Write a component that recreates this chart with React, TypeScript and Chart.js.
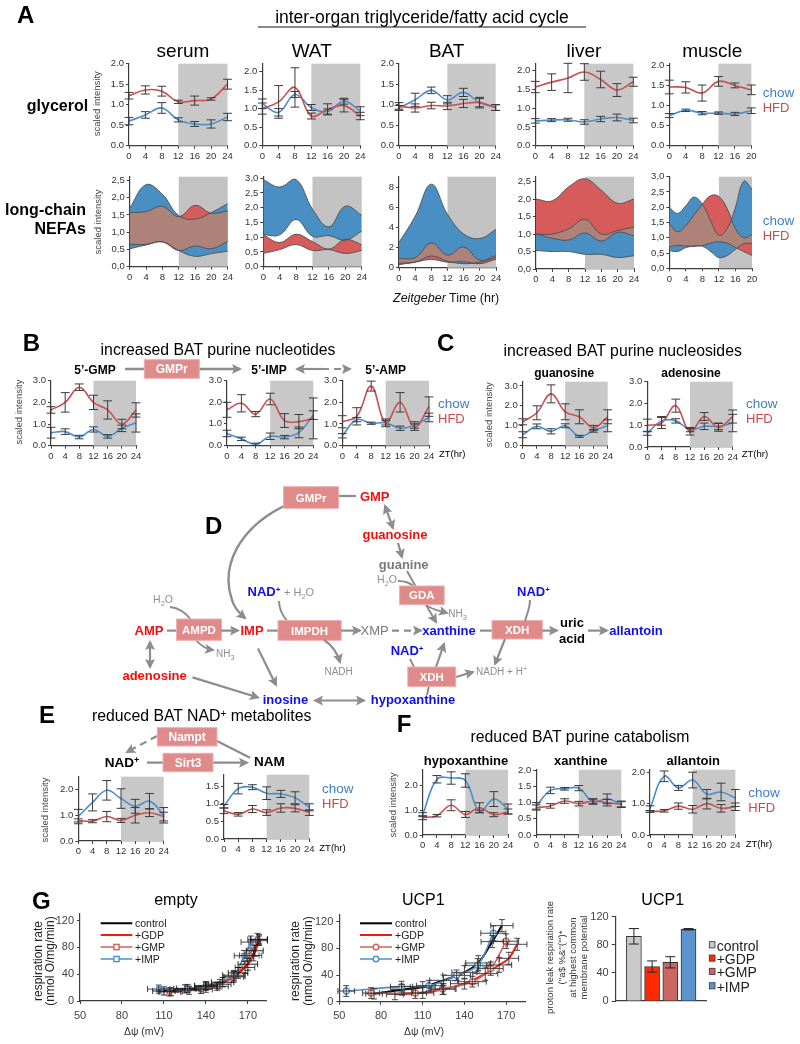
import React, { useEffect, useRef } from "react";
import { Chart, registerables } from "chart.js";

Chart.register(...registerables);

const FONT = '"Liberation Sans", Arial, sans-serif';
const CHOW = "#4a8ed0";
const HFD = "#cc4f4f";
const BLUE_TXT = "#3f7fc0";
const RED_TXT = "#c94a4a";
const SHADE = "#c8c8c8";
const ARROW = "#8d8d8d";
const ENZ = "#e08a8a";

// ---------- time axes ----------
const T24 = [0, 4, 8, 12, 16, 20, 24];
const T20 = [0, 4, 8, 12, 16, 20];
const T20Fine = [0, 2, 4, 6, 8, 10, 12, 14, 16, 18, 20];
const TICKS_05_20 = [0, 0.5, 1, 1.5, 2];
const TICKS_05_25 = [0, 0.5, 1, 1.5, 2, 2.5];
const TICKS_05_30 = [0, 0.5, 1, 1.5, 2, 2.5, 3];
const TICKS_1_30 = [0, 1, 2, 3];
const TICKS_05_15 = [0, 0.5, 1, 1.5];
const TICKS_1_20 = [0, 1, 2];
const TICKS_2_8 = [0, 2, 4, 6, 8];

// ---------- panel A glycerol ----------
const serumGlyChow = [0.6, 0.75, 0.92, 0.63, 0.53, 0.53, 0.7];
const serumGlyChowErr = [0.09, 0.08, 0.13, 0.05, 0.06, 0.1, 0.09];
const serumGlyHfd = [1.22, 1.36, 1.33, 1.07, 1.1, 1.14, 1.5];
const serumGlyHfdErr = [0.08, 0.1, 0.12, 0.04, 0.11, 0.03, 0.12];

const watGlyChow = [1.13, 0.9, 1.38, 1.03, 0.92, 1.2, 0.93];
const watGlyChowErr = [0.13, 0.1, 0.08, 0.08, 0.07, 0.08, 0.12];
const watGlyHfd = [1.0, 1.18, 1.57, 0.8, 0.98, 1.08, 0.8];
const watGlyHfdErr = [0.15, 0.44, 0.53, 0.08, 0.15, 0.17, 0.1];

const batGlyChow = [0.92, 1.12, 1.35, 1.12, 1.3, 1.05, 0.93];
const batGlyChowErr = [0.06, 0.16, 0.08, 0.1, 0.1, 0.1, 0.07];
const batGlyHfd = [0.97, 0.92, 0.98, 0.97, 1.03, 1.05, 0.93];
const batGlyHfdErr = [0.08, 0.1, 0.08, 0.09, 0.1, 0.13, 0.07];

const liverGlyChow = [0.66, 0.68, 0.69, 0.63, 0.71, 0.75, 0.67];
const liverGlyChowErr = [0.06, 0.04, 0.04, 0.06, 0.07, 0.09, 0.06];
const liverGlyHfd = [1.56, 1.69, 1.8, 1.96, 1.76, 1.48, 1.7];
const liverGlyHfdErr = [0.15, 0.22, 0.39, 0.22, 0.22, 0.17, 0.12];

const muscleGlyChow = [0.75, 0.88, 0.81, 0.81, 0.79, 0.87];
const muscleGlyChowErr = [0.05, 0.03, 0.04, 0.03, 0.04, 0.07];
const muscleGlyHfd = [1.46, 1.45, 1.31, 1.6, 1.5, 1.39];
const muscleGlyHfdErr = [0.17, 0.14, 0.2, 0.12, 0.06, 0.12];

// ---------- panel A long-chain NEFA bands ----------
const serumNefaBlueUp = [1.7, 2.38, 2.1, 1.48, 1.38, 1.57, 1.83];
const serumNefaBlueLo = [0.52, 0.63, 0.72, 0.47, 0.3, 0.38, 0.45];
const serumNefaRedUp = [1.57, 1.6, 1.75, 1.45, 1.78, 1.55, 1.62];
const serumNefaRedLo = [0.65, 0.65, 0.72, 0.47, 0.6, 0.52, 0.73];

const watNefaBlueUp = [2.95, 2.7, 2.95, 1.95, 1.35, 2.05, 1.75];
const watNefaBlueLo = [1.08, 1.08, 1.6, 1.03, 1.05, 0.9, 1.2];
const watNefaRedUp = [1.08, 0.82, 1.1, 0.85, 0.6, 0.92, 0.75];
const watNefaRedLo = [0.45, 0.58, 0.75, 0.55, 0.58, 0.45, 0.55];

const batNefaBlueUp = [2.5, 5.1, 8.3, 5.3, 3.35, 2.9, 3.8];
const batNefaBlueLo = [0.45, 0.55, 1.17, 0.65, 0.4, 0.55, 1.05];
const batNefaRedUp = [0.9, 1.0, 2.45, 1.25, 2.05, 0.75, 1.2];
const batNefaRedLo = [0.3, 0.55, 0.82, 0.55, 0.6, 0.4, 0.85];

const liverNefaBlueUp = [1.0, 1.0, 1.15, 1.42, 1.0, 1.1, 1.2];
const liverNefaBlueLo = [0.53, 0.5, 0.5, 0.42, 0.42, 0.33, 0.38];
const liverNefaRedUp = [2.0, 1.95, 2.35, 2.58, 2.25, 1.88, 2.0];
const liverNefaRedLo = [1.0, 0.88, 0.83, 1.03, 0.8, 1.05, 0.95];

const muscleNefaBlueUp = [2.0, 1.8, 2.05, 2.33, 2.1, 1.55, 1.08, 1.3, 2.0, 2.85, 2.6];
const muscleNefaBlueLo = [0.58, 0.55, 0.68, 0.72, 0.72, 0.55, 0.35, 0.42, 0.62, 0.8, 0.82];
const muscleNefaRedUp = [1.45, 1.2, 1.4, 1.75, 2.1, 2.38, 2.35, 1.95, 1.3, 1.0, 1.1];
const muscleNefaRedLo = [0.7, 0.75, 0.73, 0.73, 0.75, 0.83, 0.87, 0.82, 0.68, 0.55, 0.42];

// ---------- panel B ----------
const gmpChow = [0.6, 0.65, 0.4, 0.75, 0.43, 0.8, 1.05];
const gmpChowErr = [0.25, 0.13, 0.08, 0.12, 0.08, 0.15, 0.42];
const gmpHfd = [1.65, 2.0, 2.7, 2.0, 1.65, 1.0, 1.65];
const gmpHfdErr = [0.15, 0.45, 0.15, 0.33, 0.42, 0.22, 0.33];

const impChow = [0.55, 0.3, 0.05, 0.42, 0.38, 0.6, 1.4];
const impChowErr = [0.15, 0.08, 0.05, 0.15, 0.08, 0.25, 0.2];
const impHfd = [1.65, 1.95, 1.45, 2.15, 1.15, 1.1, 1.25];
const impHfdErr = [0.35, 0.4, 0.12, 0.27, 0.32, 0.33, 0.95];

const ampChow = [0.45, 1.2, 1.03, 1.05, 0.8, 0.95, 1.3];
const ampChowErr = [0.1, 0.1, 0.05, 0.1, 0.1, 0.15, 0.2];
const ampHfd = [1.1, 1.35, 2.75, 1.05, 2.0, 0.85, 1.8];
const ampHfdErr = [0.28, 0.4, 0.23, 0.18, 0.45, 0.15, 0.45];

// ---------- panel C ----------
const guanChow = [0.55, 0.97, 0.72, 1.0, 0.47, 0.75, 1.0];
const guanChowErr = [0.15, 0.12, 0.13, 0.1, 0.05, 0.07, 0.3];
const guanHfd = [1.2, 1.65, 2.6, 1.7, 1.45, 0.9, 1.45];
const guanHfdErr = [0.15, 0.35, 0.45, 0.4, 0.35, 0.12, 0.35];

const adenChow = [0.62, 1.2, 1.2, 0.8, 0.95, 0.95, 1.1];
const adenChowErr = [0.08, 0.2, 0.1, 0.1, 0.15, 0.15, 0.4];
const adenHfd = [1.0, 1.1, 1.9, 0.7, 1.4, 0.9, 1.4];
const adenHfdErr = [0.28, 0.25, 0.3, 0.15, 0.18, 0.18, 0.3];

// ---------- panel E ----------
const nadChow = [0.95, 1.5, 1.97, 1.65, 1.35, 1.55, 1.0];
const nadChowErr = [0.28, 0.33, 0.38, 0.38, 0.27, 0.3, 0.3];
const nadHfd = [0.8, 0.77, 0.95, 0.8, 1.0, 1.1, 0.95];
const nadHfdErr = [0.06, 0.06, 0.2, 0.08, 0.3, 0.15, 0.17];

const namChow = [0.93, 1.43, 1.47, 1.3, 1.28, 1.17, 0.9];
const namChowErr = [0.05, 0.15, 0.07, 0.18, 0.1, 0.17, 0.1];
const namHfd = [0.8, 0.7, 0.85, 0.75, 0.88, 0.87, 0.75];
const namHfdErr = [0.08, 0.05, 0.1, 0.08, 0.12, 0.1, 0.08];

// ---------- panel F ----------
const hypoChow = [0.82, 2.25, 2.3, 2.2, 0.95, 1.45, 1.05];
const hypoChowErr = [0.08, 0.15, 0.25, 0.27, 0.05, 0.3, 0.2];
const hypoHfd = [0.7, 0.78, 1.2, 0.83, 1.1, 0.82, 0.95];
const hypoHfdErr = [0.08, 0.05, 0.22, 0.12, 0.2, 0.08, 0.1];

const xanChow = [0.9, 1.38, 1.43, 1.45, 1.03, 1.12, 0.95];
const xanChowErr = [0.1, 0.1, 0.04, 0.08, 0.08, 0.15, 0.08];
const xanHfd = [0.85, 0.9, 1.05, 0.97, 1.05, 1.0, 0.95];
const xanHfdErr = [0.08, 0.07, 0.07, 0.07, 0.07, 0.1, 0.1];

const allanChow = [0.85, 1.87, 1.5, 1.75, 1.3, 1.37, 1.18];
const allanChowErr = [0.08, 0.17, 0.08, 0.25, 0.15, 0.28, 0.27];
const allanHfd = [0.75, 0.77, 0.92, 0.82, 1.0, 0.85, 0.9];
const allanHfdErr = [0.03, 0.04, 0.1, 0.12, 0.17, 0.12, 0.12];

// ---------- panel G respiration curves ----------
const emptyControlX = [110, 125, 140, 152, 163, 170, 175, 178];
const emptyControlY = [15, 18, 22, 28, 42, 55, 75, 92];
const emptyGdpX = [115, 128, 140, 150, 160, 168, 174, 178];
const emptyGdpY = [14, 16, 19, 25, 36, 50, 68, 90];
const emptyGmpX = [114, 136.6, 148, 160, 171, 177];
const emptyGmpY = [13.5, 17.3, 22, 37, 68, 92];
const emptyImpX = [106.3, 127, 140, 160, 167.3, 172.2];
const emptyImpY = [17.8, 18.8, 23, 38.5, 67.5, 88];
const emptyXErr = [8, 8, 8, 8, 7, 7, 6, 6];
const emptyYErr = [6, 6, 6, 7, 8, 9, 8, 7];

const ucpControlX = [75, 95, 110, 125, 140, 150, 160, 167];
const ucpControlY = [12, 18, 22, 32, 44, 58, 90, 114];
const ucpGdpX = [90, 110, 125, 140, 155, 165, 172, 178];
const ucpGdpY = [11, 13, 19, 27, 42, 55, 65, 86];
const ucpGmpX = [72.8, 104.7, 124.3, 145.7, 158.9, 170];
const ucpGmpY = [13, 13, 19, 30, 49.6, 90.6];
const ucpImpX = [55, 94.8, 114.5, 134.4, 149.5, 160.8];
const ucpImpY = [16, 22.6, 24, 39.5, 54.5, 102.6];
const ucpXErr = [6, 8, 9, 10, 9, 9];
const ucpYErr = [8, 8, 8, 8, 10, 11];

const respXTicks = [50, 80, 110, 140, 170];
const respYTicks = [0, 20, 40, 60, 80, 100, 120];

// ---------- panel G bars ----------
const barLabels = ["", "control", "+GDP", "+GMP", "+IMP", ""];
const barValues = [null, 92, 49, 55, 102, null];
const barErrors = [0, 11, 8, 8, 1, 0];
const barColors = ["#000", "#c9c9c9", "#ff2a00", "#cc6662", "#5b94cc", "#000"];
const barYTicks = [0, 40, 80, 120];

type Box = { x0: number; x1: number; yT: number; yB: number };

// ---------- plugins ----------
const shadePlugin = {
  id: "shade",
  beforeDatasetsDraw(chart: any, _a: any, opts: any) {
    if (opts.from == null) return;
    const { ctx, chartArea: c, scales } = chart;
    const x = scales.x.getPixelForValue(opts.from);
    ctx.save();
    ctx.fillStyle = opts.color || SHADE;
    ctx.fillRect(x, c.top, c.right - x, c.bottom - c.top);
    ctx.restore();
  },
};

const errPlugin = {
  id: "errs",
  afterDatasetsDraw(chart: any) {
    const { ctx, scales } = chart;
    chart.data.datasets.forEach((ds: any, i: number) => {
      if (!ds.errs && !ds.xErrs) return;
      const meta = chart.getDatasetMeta(i);
      const cap = ds.capSize ?? 4.4;
      ctx.save();
      ctx.strokeStyle = ds.errColor || "#3a3a3a";
      ctx.lineWidth = ds.errWidth || 1;
      meta.data.forEach((pt: any, j: number) => {
        const raw = ds.data[j];
        if (raw == null) return;
        const yv = typeof raw === "number" ? raw : raw.y;
        const e = ds.errs ? ds.errs[j] : 0;
        if (e) {
          const a = scales.y.getPixelForValue(yv + e);
          const b = scales.y.getPixelForValue(yv - e);
          ctx.beginPath();
          ctx.moveTo(pt.x, a);
          ctx.lineTo(pt.x, b);
          ctx.moveTo(pt.x - cap, a);
          ctx.lineTo(pt.x + cap, a);
          ctx.moveTo(pt.x - cap, b);
          ctx.lineTo(pt.x + cap, b);
          ctx.stroke();
        }
        const xe = ds.xErrs ? ds.xErrs[j] : 0;
        if (xe) {
          const a = scales.x.getPixelForValue(raw.x - xe);
          const b = scales.x.getPixelForValue(raw.x + xe);
          ctx.beginPath();
          ctx.moveTo(a, pt.y);
          ctx.lineTo(b, pt.y);
          ctx.moveTo(a, pt.y - cap);
          ctx.lineTo(a, pt.y + cap);
          ctx.moveTo(b, pt.y - cap);
          ctx.lineTo(b, pt.y + cap);
          ctx.stroke();
        }
      });
      ctx.restore();
    });
  },
};

function seg(ctx: any, pts: any[], move: boolean) {
  pts.forEach((p, i) => {
    if (i === 0) {
      if (move) ctx.moveTo(p.x, p.y);
      else ctx.lineTo(p.x, p.y);
      return;
    }
    const q = pts[i - 1];
    ctx.bezierCurveTo(q.cp2x, q.cp2y, p.cp1x, p.cp1y, p.x, p.y);
  });
}
function segRev(ctx: any, pts: any[]) {
  ctx.lineTo(pts[pts.length - 1].x, pts[pts.length - 1].y);
  for (let i = pts.length - 1; i > 0; i--) {
    const p = pts[i];
    const q = pts[i - 1];
    ctx.bezierCurveTo(p.cp1x, p.cp1y, q.cp2x, q.cp2y, q.x, q.y);
  }
}
const bandPlugin = {
  id: "bands",
  afterDatasetsDraw(chart: any, _a: any, opts: any) {
    if (!opts.on) return;
    const { ctx } = chart;
    const pts = [0, 1, 2, 3].map((i) => chart.getDatasetMeta(i).data);
    chart.getDatasetMeta(0).dataset.points;
    ctx.save();
    ctx.beginPath();
    seg(ctx, pts[2], true);
    segRev(ctx, pts[3]);
    ctx.closePath();
    ctx.clip();
    ctx.beginPath();
    seg(ctx, pts[0], true);
    segRev(ctx, pts[1]);
    ctx.closePath();
    ctx.fillStyle = opts.overlap;
    ctx.fill();
    ctx.restore();
    ctx.save();
    ctx.strokeStyle = "#4d4d4d";
    ctx.lineWidth = 0.9;
    pts.forEach((p) => {
      ctx.beginPath();
      seg(ctx, p, true);
      ctx.stroke();
    });
    ctx.restore();
  },
};

// ---------- chart frame ----------
function frameConfig(box: Box, o: any) {
  const L = o.L ?? 34;
  const R = o.R ?? 14;
  const TP = o.TP ?? 6;
  const B = o.B ?? 24;
  const left = Math.floor(box.x0) - L;
  const top = Math.floor(box.yT) - TP;
  const width = Math.ceil(box.x1) + R - left;
  const height = Math.ceil(box.yB) + B - top;
  const axis = o.axisColor ?? "#3d3d3d";
  const tick = { size: o.fontSize ?? 9.5, family: FONT };
  const xScale: any = {
    type: o.xCategory ? "category" : "linear",
    offset: false,
    min: o.xCategory ? undefined : o.xMin,
    max: o.xCategory ? undefined : o.xMax,
    grid: { display: true, drawOnChartArea: false, drawTicks: !o.xCategory, tickLength: o.tickLen ?? 3, color: axis, lineWidth: 1 },
    border: { display: true, color: axis, width: 1.2 },
    ticks: {
      display: !o.xCategory,
      color: o.tickColor ?? "#333",
      font: tick,
      padding: o.xPad ?? 2,
      maxRotation: 0,
      minRotation: 0,
      autoSkip: false,
    },
    afterFit: (s: any) => {
      s.height = top + height - box.yB;
    },
  };
  if (!o.xCategory) xScale.afterBuildTicks = (s: any) => {
    s.ticks = o.xTicks.map((v: number) => ({ value: v }));
  };
  return {
    left,
    top,
    width,
    height,
    options: {
      responsive: false,
      animation: false as const,
      devicePixelRatio: 1,
      layout: {
        autoPadding: false,
        padding: { left: 0, top: box.yT - top, right: left + width - box.x1, bottom: 0 },
      },
      plugins: {
        legend: { display: false },
        tooltip: { enabled: false },
        shade: { from: o.shadeFrom, color: o.shadeColor },
        bands: { on: !!o.overlap, overlap: o.overlap },
      },
      scales: {
        x: xScale,
        y: {
          type: "linear",
          min: 0,
          max: o.yMax,
          grid: { display: true, drawOnChartArea: false, drawTicks: true, tickLength: o.tickLen ?? 3, color: axis, lineWidth: 1 },
          border: { display: true, color: axis, width: 1.2 },
          ticks: {
            color: o.tickColor ?? "#333",
            font: tick,
            padding: o.yPad ?? 2,
            callback: o.fmt,
          },
          afterBuildTicks: (s: any) => {
            s.ticks = o.yTicks.map((v: number) => ({ value: v }));
          },
          afterFit: (s: any) => {
            s.width = box.x0 - left;
          },
        },
      },
    },
  };
}

const dot1 = (v: any) => Number(v).toFixed(1);
const comma1 = (v: any) => Number(v).toFixed(1).replace(".", ",");
const int0 = (v: any) => String(v);

const pairs = (xs: number[], ys: number[]) => xs.map((x, i) => ({ x, y: ys[i] }));

function lineChart(box: Box, yMax: number, yTicks: number[], xs: number[], chow: number[], chowE: number[], hfd: number[], hfdE: number[]) {
  const last = xs[xs.length - 1];
  const f = frameConfig(box, { yMax, yTicks, xTicks: xs, xMin: 0, xMax: last, shadeFrom: 12, fmt: dot1 });
  const mk = (ys: number[], es: number[], color: string) => ({
    data: pairs(xs, ys),
    errs: es,
    borderColor: color,
    borderWidth: 1.6,
    pointRadius: 0,
    tension: 0.4,
    clip: false,
    fill: false,
  });
  return { ...f, type: "line", data: { datasets: [mk(hfd, hfdE, HFD), mk(chow, chowE, CHOW)] }, plugins: [shadePlugin, errPlugin] };
}

function bandChart(box: Box, yMax: number, yTicks: number[], xs: number[], bu: number[], bl: number[], ru: number[], rl: number[], fmt: any) {
  const last = xs[xs.length - 1];
  const f = frameConfig(box, {
    yMax, yTicks, xTicks: last === 20 ? T20 : xs, xMin: 0, xMax: last, shadeFrom: 12, fmt,
    overlap: "#ad8379", shadeColor: "#c2c2c2",
  });
  const mk = (ys: number[], bg: string | null) => ({
    data: pairs(xs, ys),
    borderWidth: 0,
    borderColor: "rgba(0,0,0,0)",
    pointRadius: 0,
    tension: 0.4,
    backgroundColor: bg || undefined,
    fill: bg ? "-1" : false,
  });
  return {
    ...f,
    type: "line",
    data: { datasets: [mk(bu, null), mk(bl, "#4a8fc4"), mk(ru, null), mk(rl, "#d65c5c")] },
    plugins: [shadePlugin, bandPlugin],
  };
}

function respChart(box: Box, xMax: number, series: any[]) {
  const f = frameConfig(box, {
    yMax: 130.5, yTicks: respYTicks, xTicks: respXTicks, xMin: 50, xMax, fmt: int0,
    fontSize: 11, xPad: 5, yPad: 3, L: 34, B: 26, tickColor: "#444",
  });
  return { ...f, type: "line", data: { datasets: series }, plugins: [errPlugin] };
}

function curve(xs: number[], ys: number[], xe: number[], ye: number[], color: string, w: number, marker: string | false, errColor: string, order: number) {
  return {
    data: pairs(xs, ys),
    xErrs: xe,
    errs: ye,
    capSize: 3,
    errColor,
    errWidth: 0.9,
    borderColor: color,
    borderWidth: w,
    tension: 0.35,
    clip: false,
    fill: false,
    order,
    pointStyle: marker || "circle",
    pointRadius: marker ? 3 : 0,
    pointBackgroundColor: "#fff",
    pointBorderColor: color,
    pointBorderWidth: 1.4,
  };
}

const emptyBox: Box = { x0: 80, x1: 266, yT: 910.7, yB: 1001 };
const ucpBox: Box = { x0: 339.3, x1: 525, yT: 911.4, yB: 1001.7 };

const configs: any[] = [
  lineChart({ x0: 129, x1: 227.5, yT: 62.7, yB: 145.7 }, 2.0, TICKS_05_20, T24, serumGlyChow, serumGlyChowErr, serumGlyHfd, serumGlyHfdErr),
  lineChart({ x0: 262.3, x1: 360.3, yT: 62.7, yB: 145.7 }, 2.21, TICKS_05_20, T24, watGlyChow, watGlyChowErr, watGlyHfd, watGlyHfdErr),
  lineChart({ x0: 399, x1: 495.7, yT: 62.7, yB: 145.7 }, 2.0, TICKS_05_20, T24, batGlyChow, batGlyChowErr, batGlyHfd, batGlyHfdErr),
  lineChart({ x0: 535.3, x1: 633.3, yT: 62.3, yB: 145.7 }, 2.18, TICKS_05_20, T24, liverGlyChow, liverGlyChowErr, liverGlyHfd, liverGlyHfdErr),
  lineChart({ x0: 669.3, x1: 751.3, yT: 62.3, yB: 145.7 }, 2.04, TICKS_05_20, T20, muscleGlyChow, muscleGlyChowErr, muscleGlyHfd, muscleGlyHfdErr),

  bandChart({ x0: 129.7, x1: 227.7, yT: 175.3, yB: 266.7 }, 2.61, TICKS_05_25, T24, serumNefaBlueUp, serumNefaBlueLo, serumNefaRedUp, serumNefaRedLo, comma1),
  bandChart({ x0: 263.3, x1: 361.7, yT: 175.3, yB: 266.7 }, 3.05, TICKS_05_30, T24, watNefaBlueUp, watNefaBlueLo, watNefaRedUp, watNefaRedLo, comma1),
  bandChart({ x0: 399, x1: 496, yT: 175, yB: 267.7 }, 9.04, TICKS_2_8, T24, batNefaBlueUp, batNefaBlueLo, batNefaRedUp, batNefaRedLo, int0),
  bandChart({ x0: 536, x1: 634, yT: 175.7, yB: 269 }, 2.64, TICKS_05_25, T24, liverNefaBlueUp, liverNefaBlueLo, liverNefaRedUp, liverNefaRedLo, comma1),
  bandChart({ x0: 669.3, x1: 752, yT: 175.7, yB: 268.3 }, 3.0, TICKS_05_30, T20Fine, muscleNefaBlueUp, muscleNefaBlueLo, muscleNefaRedUp, muscleNefaRedLo, comma1),

  lineChart({ x0: 51, x1: 136, yT: 379.3, yB: 445.7 }, 3, TICKS_1_30, T24, gmpChow, gmpChowErr, gmpHfd, gmpHfdErr),
  lineChart({ x0: 227, x1: 313.3, yT: 379.3, yB: 445.3 }, 3, TICKS_1_30, T24, impChow, impChowErr, impHfd, impHfdErr),
  lineChart({ x0: 342.3, x1: 429, yT: 379.3, yB: 445.5 }, 3, TICKS_1_30, T24, ampChow, ampChowErr, ampHfd, ampHfdErr),
  lineChart({ x0: 522.7, x1: 607.7, yT: 380, yB: 445.7 }, 3.21, TICKS_1_30, T24, guanChow, guanChowErr, guanHfd, guanHfdErr),
  lineChart({ x0: 647.3, x1: 732.7, yT: 380.3, yB: 447 }, 3, TICKS_1_30, T24, adenChow, adenChowErr, adenHfd, adenHfdErr),

  lineChart({ x0: 78.3, x1: 163.7, yT: 775.7, yB: 841 }, 2.5, TICKS_05_25, T24, nadChow, nadChowErr, nadHfd, nadHfdErr),
  lineChart({ x0: 224, x1: 309.3, yT: 773.3, yB: 839 }, 1.825, TICKS_05_15, T24, namChow, namChowErr, namHfd, namHfdErr),

  lineChart({ x0: 422.7, x1: 508, yT: 768.3, yB: 835 }, 2.636, TICKS_05_25, T24, hypoChow, hypoChowErr, hypoHfd, hypoHfdErr),
  lineChart({ x0: 536.3, x1: 621.3, yT: 768.3, yB: 835 }, 2.02, TICKS_05_20, T24, xanChow, xanChowErr, xanHfd, xanHfdErr),
  lineChart({ x0: 650, x1: 735.3, yT: 768.3, yB: 835 }, 2.08, TICKS_1_20, T24, allanChow, allanChowErr, allanHfd, allanHfdErr),

  respChart(emptyBox, 183, [
    curve(emptyImpX, emptyImpY, emptyXErr, emptyYErr, "#4a90d0", 1.6, "rect", "#333", 1),
    curve(emptyGmpX, emptyGmpY, emptyXErr, emptyYErr, "#d2605c", 1.6, "rect", "#333", 2),
    curve(emptyGdpX, emptyGdpY, emptyXErr, emptyYErr, "#ee1c10", 2, false, "#333", 3),
    curve(emptyControlX, emptyControlY, emptyXErr, emptyYErr, "#000", 2, false, "#111", 4),
  ]),
  respChart(ucpBox, 183.6, [
    curve(ucpImpX, ucpImpY, ucpXErr, ucpYErr, "#4a90d0", 1.6, "circle", "#333", 1),
    curve(ucpGmpX, ucpGmpY, ucpXErr, ucpYErr, "#d2605c", 1.6, "circle", "#333", 2),
    curve(ucpGdpX, ucpGdpY, ucpXErr.concat([7, 7]), ucpYErr.concat([9, 9]), "#ee1c10", 2, false, "#333", 3),
    curve(ucpControlX, ucpControlY, ucpXErr.concat([8, 8]), ucpYErr.concat([9, 9]), "#000", 2, false, "#333", 4),
  ]),
  (() => {
    const box: Box = { x0: 615.7, x1: 706.7, yT: 913.7, yB: 1001 };
    const f = frameConfig(box, { yMax: 120, yTicks: barYTicks, xCategory: true, fmt: int0, fontSize: 11, yPad: 3, tickLen: 4, tickColor: "#444" });
    return {
      ...f,
      type: "bar",
      data: {
        labels: barLabels,
        datasets: [{
          data: barValues,
          errs: barErrors,
          backgroundColor: barColors,
          borderColor: "#333",
          borderWidth: 1,
          barThickness: 15,
          capSize: 5,
          errColor: "#222",
        }],
      },
      plugins: [errPlugin],
    };
  })(),
];

function Mini({ cfg }: { cfg: any }) {
  const ref = useRef<HTMLCanvasElement | null>(null);
  useEffect(() => {
    const chart = new Chart(ref.current as HTMLCanvasElement, {
      type: cfg.type,
      data: cfg.data,
      options: cfg.options,
      plugins: cfg.plugins,
    } as any);
    return () => chart.destroy();
  }, [cfg]);
  return (
    <canvas
      ref={ref}
      width={cfg.width}
      height={cfg.height}
      style={{ position: "absolute", left: cfg.left, top: cfg.top, width: cfg.width, height: cfg.height }}
    />
  );
}

// ---------- overlay helpers ----------
function Tx({ x, y, s = 13, b = false, c = "#000", a = "middle", rot = false, it = false, children }: any) {
  return (
    <text
      x={x}
      y={y}
      fontSize={s}
      fontWeight={b ? 700 : 400}
      fontStyle={it ? "italic" : undefined}
      fill={c}
      textAnchor={a}
      fontFamily={FONT}
      transform={rot ? `rotate(-90 ${x} ${y})` : undefined}
    >
      {children}
    </text>
  );
}
function Arw({ d, end = true, start = false, dash = false, w = 2.2 }: any) {
  return (
    <path
      d={d}
      fill="none"
      stroke={ARROW}
      strokeWidth={w}
      strokeDasharray={dash ? "7 5" : undefined}
      markerEnd={end ? "url(#ah)" : undefined}
      markerStart={start ? "url(#ah)" : undefined}
    />
  );
}
function Enz({ x0, y0, x1, y1, s = 12, children }: any) {
  return (
    <g>
      <rect x={x0} y={y0} width={x1 - x0} height={y1 - y0} fill={ENZ} stroke="#ecb0b0" strokeWidth={1} />
      <text x={(x0 + x1) / 2} y={(y0 + y1) / 2 + s * 0.36} fontSize={s} fontWeight={700} fill="#fff" textAnchor="middle" fontFamily={FONT}>
        {children}
      </text>
    </g>
  );
}
const Sup = ({ children, s = 8 }: any) => (
  <tspan fontSize={s} dy={-4}>
    {children}
  </tspan>
);
const Sub = ({ children, s = 7.5 }: any) => (
  <>
    <tspan fontSize={s} dy={2.5}>
      {children}
    </tspan>
  </>
);
const ChowHfd = ({ x, y }: any) => (
  <>
    <Tx x={x} y={y} s={13.5} c={BLUE_TXT} a="start">chow</Tx>
    <Tx x={x} y={y + 15} s={13} c={RED_TXT} a="start">HFD</Tx>
  </>
);
const Scaled = ({ x, y }: any) => (
  <Tx x={x + 3} y={y} s={9.5} c="#444" rot>scaled intensity</Tx>
);
const Blue = "#1010e8";
const Red = "#f01010";
const Gray = "#7a7a7a";
const LGray = "#8f8f8f";

function Overlay() {
  return (
    <svg width={800} height={1044} style={{ position: "absolute", left: 0, top: 0, pointerEvents: "none" }}>
      <defs>
        <marker id="ah" viewBox="0 0 10 10" refX="8" refY="5" markerWidth="10" markerHeight="10" markerUnits="userSpaceOnUse" orient="auto-start-reverse">
          <path d="M0 0L10 5L0 10L2 5z" fill={ARROW} />
        </marker>
      </defs>

      {/* Panel A */}
      <Tx x={17} y={23} s={24} b a="start">A</Tx>
      <Tx x={422} y={23} s={17.5}>inter-organ triglyceride/fatty acid cycle</Tx>
      <line x1={258} x2={586} y1={27} y2={27} stroke="#111" strokeWidth={1} />
      <Tx x={183} y={57} s={19}>serum</Tx>
      <Tx x={311.7} y={57} s={19}>WAT</Tx>
      <Tx x={446.7} y={57} s={19}>BAT</Tx>
      <Tx x={584} y={57} s={19}>liver</Tx>
      <Tx x={712.3} y={57} s={19}>muscle</Tx>
      <Tx x={57.5} y={110.7} s={16} b>glycerol</Tx>
      <Tx x={86} y={215} s={16} b a="end">long-chain</Tx>
      <Tx x={86} y={234} s={16} b a="end">NEFAs</Tx>
      <Scaled x={97} y={103.7} />
      <Scaled x={98} y={222} />
      <ChowHfd x={762.7} y={96.7} />
      <ChowHfd x={762.7} y={225} />
      <text x={393} y={302} fontSize={12.5} fontFamily={FONT} fill="#111">
        <tspan fontStyle="italic">Zeitgeber</tspan> Time (hr)
      </text>

      {/* Panel B */}
      <Tx x={22.7} y={351} s={24} b a="start">B</Tx>
      <Tx x={218} y={355} s={15.8}>increased BAT purine nucleotides</Tx>
      <Tx x={95} y={374} s={12} b>5’-GMP</Tx>
      <Tx x={269} y={374} s={12} b>5’-IMP</Tx>
      <Tx x={385.7} y={374} s={12} b>5’-AMP</Tx>
      <Arw d="M125 369L240 369" w={2.4} />
      <Enz x0={144.3} y0={359.7} x1={199.3} y1={378.3} s={12}>GMPr</Enz>
      <Arw d="M322 369L297 369" />
      <Arw d="M322 369L350 369" dash />
      <Scaled x={19} y={412} />
      <ChowHfd x={438} y={407.7} />
      <Tx x={439} y={457} s={9.5} a="start">ZT(hr)</Tx>

      {/* Panel C */}
      <Tx x={437} y={351} s={24} b a="start">C</Tx>
      <Tx x={622.7} y={355.7} s={15.8}>increased BAT purine nucleosides</Tx>
      <Tx x={564.3} y={376.7} s={12} b>guanosine</Tx>
      <Tx x={691} y={376.7} s={12} b>adenosine</Tx>
      <Scaled x={489} y={414.7} />
      <ChowHfd x={746} y={407.7} />
      <Tx x={741.7} y={457} s={9.5} a="start">ZT(hr)</Tx>

      {/* Panel D */}
      <Tx x={205} y={534} s={24} b a="start">D</Tx>
      <Arw d="M284 506C240 528 220 565 232 600C234 607 239 613 245 618" w={2.4} />
      <Arw d="M338 496L356 496" end={false} />
      <Enz x0={283.6} y0={486.7} x1={338.6} y1={508.3} s={11.5}>GMPr</Enz>
      <Tx x={374.7} y={501} b c={Red}>GMP</Tx>
      <Arw d="M385 506L393 528" start />
      <Tx x={395} y={539} b c={Red}>guanosine</Tx>
      <Arw d="M398 543L402 557" />
      <Tx x={403.7} y={568.5} b c={Gray} s={13}>guanine</Tx>
      <Tx x={387} y={583} s={10.5} c={LGray}>H<Sub>2</Sub><tspan dy={-2.5}>O</tspan></Tx>
      <Arw d="M398 581C405 581 410 582 414 587" end={false} w={2} />
      <Arw d="M407 571L416 587" end={false} w={2} />
      <Arw d="M426 605C433 610 440 611 447 613" w={2} />
      <Arw d="M426 605L436 622" w={2} />
      <Enz x0={399.6} y0={586} x1={444.2} y1={604.6} s={11.5}>GDA</Enz>
      <Tx x={457.6} y={617} s={10} c={LGray}>NH<Sub>3</Sub></Tx>

      <Tx x={247.5} y={596.4} b c={Blue} a="start">NAD<Sup>+</Sup></Tx>
      <Tx x={284} y={596.4} s={11} c={LGray} a="start">+ H<Sub>2</Sub><tspan dy={-2.5}>O</tspan></Tx>
      <Arw d="M279 601C279 610 283 616 287 621" end={false} w={2} />
      <Tx x={163} y={603} s={10.5} c={LGray}>H<Sub>2</Sub><tspan dy={-2.5}>O</tspan></Tx>
      <Arw d="M170 607C180 608 186 613 191 620" end={false} w={2} />
      <Arw d="M196 640C200 645 206 649 213 650" w={2} />
      <Tx x={216} y={657} s={10} c={LGray} a="start">NH<Sub>3</Sub></Tx>

      <Tx x={149} y={635.4} b c={Red}>AMP</Tx>
      <Arw d="M167 630.6L177 630.6" end={false} />
      <Enz x0={176.5} y0={619} x1={221.5} y1={640.3} s={11.5}>AMPD</Enz>
      <Arw d="M221 630.6L238 630.6" />
      <Tx x={252} y={635.4} b c={Red}>IMP</Tx>
      <Arw d="M267 630.6L278 630.6" end={false} />
      <Enz x0={278} y0={620.6} x1={341.2} y1={640.3} s={11.5}>IMPDH</Enz>
      <Arw d="M341 630.6L360 630.6" />
      <Tx x={374.7} y={635.4} s={13} c={Gray}>XMP</Tx>
      <Arw d="M392 630.6L421 630.6" dash />
      <Tx x={449} y={635.4} b c={Blue}>xanthine</Tx>
      <Arw d="M480 630.6L492 630.6" end={false} />
      <Enz x0={492} y0={620.6} x1={542.3} y1={639} s={11.5}>XDH</Enz>
      <Arw d="M542 630.6L557 630.6" />
      <Tx x={572} y={627} b>uric</Tx>
      <Tx x={572} y={643} b>acid</Tx>
      <Arw d="M588 630.6L607 630.6" />
      <Tx x={636} y={635.4} b c={Blue}>allantoin</Tx>
      <Tx x={517} y={595.6} b c={Blue} a="start">NAD<Sup>+</Sup></Tx>
      <Arw d="M530 600C530 608 527 614 525 621" end={false} w={2} />
      <Arw d="M505 639L495 664" w={2.2} />
      <Tx x={476} y={674.5} s={10} c={LGray} a="start">NADH + H<Sup s={7}>+</Sup></Tx>
      <Tx x={338.6} y={674.5} s={10} c={LGray}>NADH</Tx>
      <Arw d="M324 640C332 645 337 652 340 662" w={2.2} />

      <Arw d="M436 667L444 644" />
      <Arw d="M456 677L473 672" />
      <Arw d="M410 659L414 667" end={false} w={2} />
      <Arw d="M427 695L429 686" end={false} w={2} />
      <Enz x0={407.8} y0={667} x1={455.7} y1={686.4} s={11.5}>XDH</Enz>
      <Tx x={390.7} y={654.8} b c={Blue} a="start">NAD<Sup>+</Sup></Tx>
      <Tx x={413} y={704} b c={Blue}>hypoxanthine</Tx>
      <Tx x={285.5} y={704} b c={Blue}>inosine</Tx>
      <Arw d="M315 700.5L364 700.5" start />
      <Tx x={154.6} y={680} b c={Red}>adenosine</Tx>
      <Arw d="M150 642L150 667" start />
      <Arw d="M192.5 677.4L258 697.5" />
      <Arw d="M258 648.4L276 685" />

      {/* Panel E */}
      <Tx x={39} y={723} s={24} b a="start">E</Tx>
      <Tx x={201.7} y={721} s={15.8}>reduced BAT NAD<Sup s={10}>+</Sup><tspan dy={4}> metabolites</tspan></Tx>
      <Arw d="M157 736L127 752" dash w={2.2} />
      <Arw d="M217 741L250 757.7" end={false} w={2.2} />
      <Arw d="M147 762.7L247 762.7" />
      <Enz x0={157.3} y0={727.7} x1={217} y1={746} s={12}>Nampt</Enz>
      <Enz x0={163} y0={753.3} x1={213} y1={771.7} s={12}>Sirt3</Enz>
      <Tx x={122} y={766.7} s={13.5} b>NAD<Sup s={9}>+</Sup></Tx>
      <Tx x={269.3} y={765.7} s={13.5} b>NAM</Tx>
      <Scaled x={45} y={810} />
      <ChowHfd x={322} y={793.3} />
      <Tx x={319.3} y={850.7} s={9.5} a="start">ZT(hr)</Tx>

      {/* Panel F */}
      <Tx x={396.7} y={732} s={24} b a="start">F</Tx>
      <Tx x={580} y={741.7} s={15.8}>reduced BAT purine catabolism</Tx>
      <Tx x={466} y={765} s={13} b>hypoxanthine</Tx>
      <Tx x={580.7} y={765} s={13} b>xanthine</Tx>
      <Tx x={693.3} y={765} s={13} b>allantoin</Tx>
      <Scaled x={393.3} y={805} />
      <ChowHfd x={748.3} y={797.3} />
      <Tx x={745.7} y={847.3} s={9.5} a="start">ZT(hr)</Tx>

      {/* Panel G */}
      <Tx x={32} y={909.3} s={24} b a="start">G</Tx>
      <Tx x={176} y={905} s={16}>empty</Tx>
      <Tx x={423.3} y={905} s={16}>UCP1</Tx>
      <Tx x={662.7} y={905} s={16}>UCP1</Tx>
      <Tx x={42} y={961} s={12} c="#222" rot>respiration rate</Tx>
      <Tx x={54} y={961} s={12} c="#222" rot>(nmol O/mg/min)</Tx>
      <Tx x={299} y={961} s={12} c="#222" rot>respiration rate</Tx>
      <Tx x={312} y={961} s={12} c="#222" rot>(nmol O/mg/min)</Tx>
      <Tx x={144} y={1035} s={10.5} c="#333">Δψ (mV)</Tx>
      <Tx x={424} y={1035} s={10.5} c="#333">Δψ (mV)</Tx>

      {[
        { lx0: 100.7, lx1: 132.3, tx: 135, rect: true },
        { lx0: 360, lx1: 392, tx: 395, rect: false },
      ].map((g, i) => {
        const ys = [924.3, 936, 948, 960];
        const cols = ["#000", "#ee1c10", "#d2605c", "#4a90d0"];
        const names = ["control", "+GDP", "+GMP", "+IMP"];
        const mx = (g.lx0 + g.lx1) / 2;
        return (
          <g key={i}>
            {ys.map((y, j) => (
              <g key={j}>
                <line x1={g.lx0} x2={g.lx1} y1={y - 1} y2={y - 1} stroke={cols[j]} strokeWidth={j < 2 ? 2 : 1.5} />
                {j >= 2 && g.rect && <rect x={mx - 2.6} y={y - 3.6} width={5.2} height={5.2} fill="#fff" stroke={cols[j]} strokeWidth={1.4} />}
                {j >= 2 && !g.rect && <circle cx={mx} cy={y - 1} r={2.8} fill="#fff" stroke={cols[j]} strokeWidth={1.4} />}
                <Tx x={g.tx} y={y + 3} s={10.5} c="#222" a="start">{names[j]}</Tx>
              </g>
            ))}
          </g>
        );
      })}

      <Tx x={552.5} y={957.5} s={9.5} c="#333" rot>proton leak respiration rate</Tx>
      <Tx x={565} y={957.5} s={9.5} c="#333" rot>(''a$ %&''(''')*</Tx>
      <Tx x={576} y={957.5} s={9.5} c="#333" rot>at highest common</Tx>
      <Tx x={587} y={957.5} s={9.5} c="#333" rot>membrane potential</Tx>
      {[
        { y: 950.7, c: "#c9c9c9", t: "control" },
        { y: 964, c: "#ff2a00", t: "+GDP" },
        { y: 977.3, c: "#cc6662", t: "+GMP" },
        { y: 991.7, c: "#5b94cc", t: "+IMP" },
      ].map((r) => (
        <g key={r.t}>
          <rect x={709.3} y={r.y - 9} width={5.7} height={6.2} fill={r.c} stroke="#333" strokeWidth={0.8} />
          <Tx x={716.7} y={r.y} s={14} c="#222" a="start">{r.t}</Tx>
        </g>
      ))}
    </svg>
  );
}

export default function App() {
  return (
    <div style={{ position: "absolute", left: 0, top: 0, width: 800, height: 1044, overflow: "hidden", background: "#fff" }}>
      {configs.map((c, i) => (
        <Mini key={i} cfg={c} />
      ))}
      <Overlay />
    </div>
  );
}
